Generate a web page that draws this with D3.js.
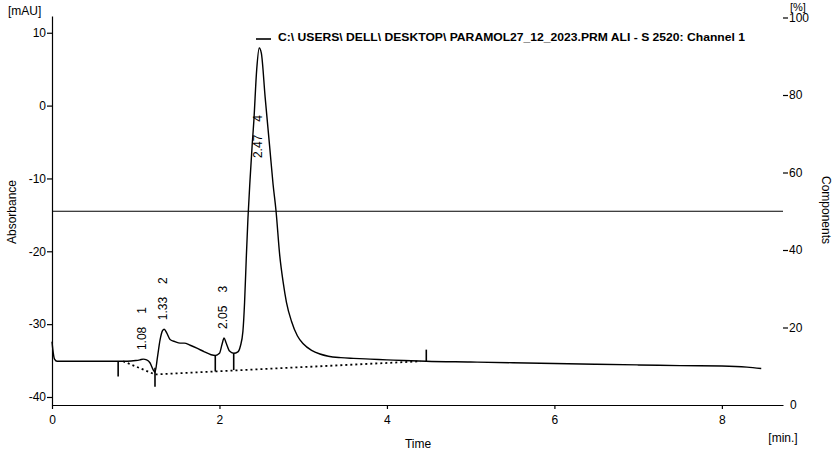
<!DOCTYPE html>
<html>
<head>
<meta charset="utf-8">
<script src="https://cdn.jsdelivr.net/npm/d3@7/dist/d3.min.js"></script>
<style>
	body { margin: 0; background: #fff; }
	svg { display: block; font-family: "Liberation Sans", Arial, sans-serif; }
	.axis text { font-size: 12px; fill: #000; }
	.axis path, .axis line { stroke: #000; stroke-width: 1.2; }
</style>
</head>
<body>
<svg id="chart" width="836" height="454"></svg>
<script>
// chromatogram trace, time in min, absorbance in mAU
var traceTime = [0, 0.01, 0.03, 0.06, 0.3, 0.6, 0.79, 0.9, 1.0, 1.05, 1.09, 1.13, 1.17, 1.21, 1.23, 1.26, 1.29, 1.32, 1.34, 1.37, 1.41, 1.47, 1.53, 1.58, 1.65, 1.73, 1.82, 1.9, 1.95, 2.0, 2.03, 2.055, 2.08, 2.12, 2.17, 2.22, 2.25, 2.28, 2.3, 2.32, 2.34, 2.365, 2.39, 2.41, 2.445, 2.475, 2.5, 2.545, 2.6, 2.64, 2.675, 2.72, 2.76, 2.8, 2.86, 2.93, 3.0, 3.1, 3.2, 3.3, 3.45, 3.6, 3.8, 4.0, 4.2, 4.47, 5.0, 5.5, 6.0, 6.5, 7.0, 7.5, 8.0, 8.3, 8.47];
var traceValue = [-32.4, -33.5, -34.8, -35.1, -35.1, -35.1, -35.1, -35.1, -35.0, -34.9, -34.8, -34.9, -35.3, -36.3, -36.6, -34.5, -32.2, -30.9, -30.7, -31.2, -32.1, -32.4, -32.6, -32.6, -32.9, -33.3, -33.8, -34.2, -34.3, -34.0, -32.8, -31.9, -32.6, -33.7, -34.0, -33.8, -33.0, -31.0, -27.0, -21.0, -15.5, -10.2, -5.5, -2.2, 5.0, 7.9, 7.2, 1.2, -5.7, -10.8, -14.4, -20.6, -24.2, -27.0, -29.6, -31.6, -32.7, -33.6, -34.1, -34.4, -34.6, -34.7, -34.8, -34.9, -35.0, -35.1, -35.2, -35.3, -35.4, -35.5, -35.6, -35.7, -35.75, -35.9, -36.1];

// integration baseline (dotted)
var baseTime = [0.85, 1.23, 4.4];
var baseValue = [-35.1, -36.9, -35.1];

// peaks
var peakNumber = ["1", "2", "3", "4"];
var peakTime = [1.08, 1.33, 2.05, 2.47];
var peakValue = [-34.8, -30.7, -31.9, 7.9];

// integration markers: time, from, to (mAU)
var markTime = [0.79, 1.23, 1.95, 2.17, 4.47];
var markFrom = [-35.1, -36.0, -34.3, -34.0, -35.1];
var markTo = [-37.2, -38.6, -36.5, -36.3, -33.5];

// axes
var timeTicks = [0, 2, 4, 6, 8];
var mauTicks = [-40, -30, -20, -10, 0, 10];
var pctTicks = [0, 20, 40, 60, 80, 100];
var thresholdPct = 50;

var legendText = "C:\\ USERS\\ DELL\\ DESKTOP\\ PARAMOL27_12_2023.PRM ALI  - S 2520: Channel 1";

var svg = d3.select("#chart");

var x = d3.scaleLinear().domain([0, 8.73]).range([52, 783]);
var y = d3.scaleLinear().domain([-41.1, 12.3]).range([405, 16]);
var yR = d3.scaleLinear().domain([0, 100]).range([405, 17.5]);

// plain hyphen instead of the unicode minus
var plain = function(d) { return String(d); };

// x axis
svg.append("g")
	.attr("class", "axis")
	.attr("transform", "translate(0," + y.range()[0] + ")")
	.call(d3.axisBottom(x).tickValues(timeTicks).tickSize(4).tickSizeOuter(0).tickPadding(6).tickFormat(plain));

// left axis
svg.append("g")
	.attr("class", "axis")
	.attr("transform", "translate(" + x.range()[0] + ",0)")
	.call(d3.axisLeft(y).tickValues(mauTicks).tickSize(5).tickSizeOuter(0).tickPadding(1).tickFormat(plain));

// right axis, ticks only
var right = svg.append("g")
	.attr("class", "axis")
	.attr("transform", "translate(" + x.range()[1] + ",0)")
	.call(d3.axisRight(yR).tickValues(pctTicks).tickSize(5).tickSizeOuter(0).tickPadding(1).tickFormat(plain));
right.select(".domain").remove();
right.selectAll(".tick").filter(function(d) { return d === 0; }).select("line").remove();
right.selectAll(".tick").filter(function(d) { return d === 0; }).select("text").attr("x", 7);

// axis titles
svg.append("text").attr("x", 8).attr("y", 15).attr("font-size", 12).text("[mAU]");
svg.append("text").attr("x", 790).attr("y", 11).attr("font-size", 11).text("[%]");
svg.append("text").attr("x", 783).attr("y", 442).attr("text-anchor", "middle").attr("font-size", 12).text("[min.]");
svg.append("text").attr("x", 418).attr("y", 448).attr("text-anchor", "middle").attr("font-size", 12).text("Time");
svg.append("text")
	.attr("transform", "translate(16,212) rotate(-90)")
	.attr("text-anchor", "middle").attr("font-size", 12)
	.text("Absorbance");
svg.append("text")
	.attr("transform", "translate(822,210) rotate(90)")
	.attr("text-anchor", "middle").attr("font-size", 12)
	.text("Components");

// threshold line on the % axis
svg.append("line")
	.attr("x1", x.range()[0]).attr("x2", x.range()[1])
	.attr("y1", yR(thresholdPct)).attr("y2", yR(thresholdPct))
	.attr("stroke", "#000").attr("stroke-width", 1.2);

// legend
svg.append("line")
	.attr("x1", 256).attr("x2", 271).attr("y1", 39).attr("y2", 39)
	.attr("stroke", "#000").attr("stroke-width", 1.6);
svg.append("text")
	.attr("x", 278).attr("y", 41)
	.attr("font-size", 11).attr("font-weight", "bold")
	.attr("textLength", 467).attr("lengthAdjust", "spacingAndGlyphs")
	.text(legendText);

// baseline
var baseLine = d3.line()
	.x(function(d, i) { return x(baseTime[i]); })
	.y(function(d) { return y(d); });
svg.append("path")
	.datum(baseValue)
	.attr("d", baseLine)
	.attr("fill", "none")
	.attr("stroke", "#000")
	.attr("stroke-width", 1.8)
	.attr("stroke-dasharray", "2,3");

// trace
var traceLine = d3.line()
	.x(function(d, i) { return x(traceTime[i]); })
	.y(function(d) { return y(d); })
	.curve(d3.curveMonotoneX);
svg.append("path")
	.datum(traceValue)
	.attr("d", traceLine)
	.attr("fill", "none")
	.attr("stroke", "#000")
	.attr("stroke-width", 1.4);

// markers
svg.append("g").selectAll("line")
	.data(markTime)
	.enter().append("line")
	.attr("x1", function(d) { return x(d); })
	.attr("x2", function(d) { return x(d); })
	.attr("y1", function(d, i) { return y(markFrom[i]); })
	.attr("y2", function(d, i) { return y(markTo[i]); })
	.attr("stroke", "#000")
	.attr("stroke-width", 1.6);

// peak labels, rotated; big peak label sits inside the peak
var labelBase = function(i) {
	return Math.max(y(peakValue[i]) - 9, y(-7.2));
};
var labels = svg.append("g").attr("font-size", 12);
peakTime.forEach(function(t, i) {
	var lx = x(t) - 1;
	var ly = labelBase(i);
	var txt = labels.append("text")
		.attr("transform", "translate(" + lx + "," + ly + ") rotate(-90)")
		.attr("dy", "0.35em")
		.text(d3.format(".2f")(t));
	var w = txt.node().getComputedTextLength();
	labels.append("text")
		.attr("transform", "translate(" + lx + "," + (ly - w - 13) + ") rotate(-90)")
		.attr("dy", "0.35em")
		.text(peakNumber[i]);
});
</script>
</body>
</html>
